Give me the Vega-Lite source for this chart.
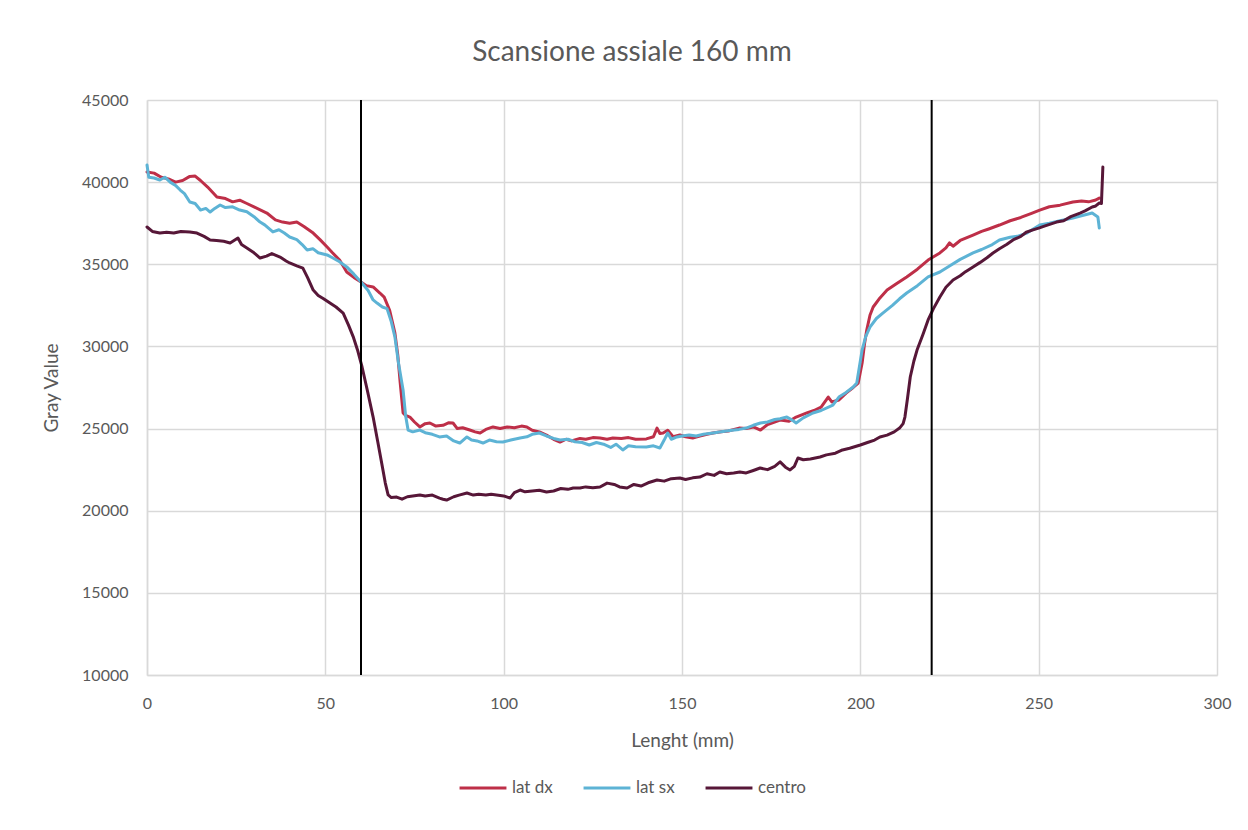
{
"$schema": "https://vega.github.io/schema/vega-lite/v6.json",
"autosize": {"type": "none"},
"width": 1070,
"height": 575,
"padding": {"left": 147, "top": 100, "right": 31, "bottom": 155},
"background": "white",
"title": {"text": "Scansione assiale 160 mm", "font": "Lato", "fontSize": 28, "fontWeight": "normal", "color": "#595959", "anchor": "middle", "dx": -50, "offset": 25},
"config": {"view": {"stroke": null}, "font": "Lato"},
"layer": [
{
"data": {"values": [
{"s":"lat dx","x":0,"y":40620},{"s":"lat dx","x":2,"y":40550},{"s":"lat dx","x":4,"y":40300},{"s":"lat dx","x":6,"y":40200},{"s":"lat dx","x":8,"y":40000},{"s":"lat dx","x":10,"y":40100},{"s":"lat dx","x":12,"y":40350},{"s":"lat dx","x":13.5,"y":40370},{"s":"lat dx","x":15,"y":40100},{"s":"lat dx","x":17,"y":39700},{"s":"lat dx","x":19.6,"y":39100},{"s":"lat dx","x":22,"y":39000},{"s":"lat dx","x":24,"y":38800},{"s":"lat dx","x":26,"y":38900},{"s":"lat dx","x":28,"y":38700},{"s":"lat dx","x":30,"y":38500},{"s":"lat dx","x":33.6,"y":38120},{"s":"lat dx","x":36,"y":37700},{"s":"lat dx","x":38,"y":37570},{"s":"lat dx","x":40,"y":37500},{"s":"lat dx","x":42,"y":37570},{"s":"lat dx","x":44,"y":37300},{"s":"lat dx","x":46.6,"y":36900},{"s":"lat dx","x":48.5,"y":36500},{"s":"lat dx","x":50.5,"y":36050},{"s":"lat dx","x":52,"y":35700},{"s":"lat dx","x":54,"y":35260},{"s":"lat dx","x":56,"y":34530},{"s":"lat dx","x":58,"y":34200},{"s":"lat dx","x":60,"y":33920},{"s":"lat dx","x":61.5,"y":33700},{"s":"lat dx","x":63.4,"y":33620},{"s":"lat dx","x":65.3,"y":33250},{"s":"lat dx","x":66.5,"y":33000},{"s":"lat dx","x":68,"y":32220},{"s":"lat dx","x":69.5,"y":30820},{"s":"lat dx","x":70.3,"y":29500},{"s":"lat dx","x":71,"y":27770},{"s":"lat dx","x":71.8,"y":25950},{"s":"lat dx","x":72.5,"y":25800},{"s":"lat dx","x":73.7,"y":25700},{"s":"lat dx","x":75,"y":25400},{"s":"lat dx","x":76.5,"y":25100},{"s":"lat dx","x":78,"y":25300},{"s":"lat dx","x":79.3,"y":25340},{"s":"lat dx","x":81,"y":25150},{"s":"lat dx","x":83,"y":25200},{"s":"lat dx","x":84.5,"y":25350},{"s":"lat dx","x":85.8,"y":25340},{"s":"lat dx","x":87,"y":25000},{"s":"lat dx","x":88.5,"y":25050},{"s":"lat dx","x":90.5,"y":24910},{"s":"lat dx","x":92,"y":24800},{"s":"lat dx","x":93.4,"y":24730},{"s":"lat dx","x":95,"y":24950},{"s":"lat dx","x":97,"y":25100},{"s":"lat dx","x":99,"y":25000},{"s":"lat dx","x":101,"y":25100},{"s":"lat dx","x":103,"y":25050},{"s":"lat dx","x":105,"y":25150},{"s":"lat dx","x":106.5,"y":25100},{"s":"lat dx","x":108,"y":24900},{"s":"lat dx","x":110,"y":24800},{"s":"lat dx","x":112,"y":24600},{"s":"lat dx","x":114,"y":24350},{"s":"lat dx","x":115.8,"y":24180},{"s":"lat dx","x":117.5,"y":24350},{"s":"lat dx","x":119,"y":24250},{"s":"lat dx","x":121.4,"y":24400},{"s":"lat dx","x":123,"y":24350},{"s":"lat dx","x":125,"y":24450},{"s":"lat dx","x":127,"y":24430},{"s":"lat dx","x":129,"y":24350},{"s":"lat dx","x":130.6,"y":24430},{"s":"lat dx","x":133,"y":24400},{"s":"lat dx","x":135,"y":24450},{"s":"lat dx","x":137,"y":24350},{"s":"lat dx","x":140,"y":24370},{"s":"lat dx","x":142,"y":24500},{"s":"lat dx","x":143,"y":25030},{"s":"lat dx","x":143.8,"y":24700},{"s":"lat dx","x":144.7,"y":24730},{"s":"lat dx","x":146,"y":24900},{"s":"lat dx","x":147.5,"y":24500},{"s":"lat dx","x":149.4,"y":24610},{"s":"lat dx","x":151,"y":24500},{"s":"lat dx","x":153,"y":24430},{"s":"lat dx","x":155,"y":24550},{"s":"lat dx","x":157,"y":24650},{"s":"lat dx","x":158.7,"y":24730},{"s":"lat dx","x":161,"y":24800},{"s":"lat dx","x":163,"y":24850},{"s":"lat dx","x":166,"y":25030},{"s":"lat dx","x":168,"y":25000},{"s":"lat dx","x":170,"y":25100},{"s":"lat dx","x":172,"y":24910},{"s":"lat dx","x":174,"y":25250},{"s":"lat dx","x":177.5,"y":25520},{"s":"lat dx","x":180,"y":25450},{"s":"lat dx","x":182,"y":25700},{"s":"lat dx","x":185,"y":25950},{"s":"lat dx","x":187,"y":26100},{"s":"lat dx","x":189,"y":26300},{"s":"lat dx","x":191,"y":26920},{"s":"lat dx","x":192,"y":26620},{"s":"lat dx","x":194,"y":26740},{"s":"lat dx","x":196,"y":27160},{"s":"lat dx","x":198,"y":27500},{"s":"lat dx","x":199.4,"y":27770},{"s":"lat dx","x":200.5,"y":28990},{"s":"lat dx","x":201.2,"y":30200},{"s":"lat dx","x":201.8,"y":31000},{"s":"lat dx","x":202.7,"y":31900},{"s":"lat dx","x":203.6,"y":32400},{"s":"lat dx","x":205.5,"y":32950},{"s":"lat dx","x":207.5,"y":33430},{"s":"lat dx","x":210,"y":33800},{"s":"lat dx","x":213,"y":34230},{"s":"lat dx","x":216,"y":34700},{"s":"lat dx","x":219,"y":35260},{"s":"lat dx","x":222.3,"y":35690},{"s":"lat dx","x":224,"y":36000},{"s":"lat dx","x":225,"y":36300},{"s":"lat dx","x":226,"y":36100},{"s":"lat dx","x":228,"y":36450},{"s":"lat dx","x":231.6,"y":36780},{"s":"lat dx","x":234,"y":37000},{"s":"lat dx","x":236,"y":37150},{"s":"lat dx","x":239,"y":37390},{"s":"lat dx","x":242,"y":37650},{"s":"lat dx","x":245,"y":37850},{"s":"lat dx","x":248,"y":38100},{"s":"lat dx","x":250.3,"y":38300},{"s":"lat dx","x":253,"y":38500},{"s":"lat dx","x":256,"y":38600},{"s":"lat dx","x":259.6,"y":38790},{"s":"lat dx","x":262,"y":38850},{"s":"lat dx","x":264,"y":38800},{"s":"lat dx","x":266,"y":38910},{"s":"lat dx","x":267,"y":39030},
{"s":"lat sx","x":0,"y":41040},{"s":"lat sx","x":0.5,"y":40300},{"s":"lat sx","x":2,"y":40250},{"s":"lat sx","x":3.6,"y":40130},{"s":"lat sx","x":5,"y":40300},{"s":"lat sx","x":6.5,"y":40000},{"s":"lat sx","x":8,"y":39800},{"s":"lat sx","x":9.3,"y":39520},{"s":"lat sx","x":10.5,"y":39300},{"s":"lat sx","x":12,"y":38790},{"s":"lat sx","x":13.5,"y":38700},{"s":"lat sx","x":15,"y":38300},{"s":"lat sx","x":16.5,"y":38400},{"s":"lat sx","x":17.7,"y":38180},{"s":"lat sx","x":19,"y":38400},{"s":"lat sx","x":20.5,"y":38610},{"s":"lat sx","x":22,"y":38450},{"s":"lat sx","x":24,"y":38500},{"s":"lat sx","x":26,"y":38300},{"s":"lat sx","x":28,"y":38200},{"s":"lat sx","x":30,"y":37900},{"s":"lat sx","x":31.7,"y":37570},{"s":"lat sx","x":33,"y":37400},{"s":"lat sx","x":35.3,"y":36970},{"s":"lat sx","x":37,"y":37100},{"s":"lat sx","x":38.5,"y":36900},{"s":"lat sx","x":40,"y":36660},{"s":"lat sx","x":42,"y":36500},{"s":"lat sx","x":43.5,"y":36200},{"s":"lat sx","x":44.9,"y":35870},{"s":"lat sx","x":46.5,"y":35950},{"s":"lat sx","x":48,"y":35700},{"s":"lat sx","x":50.5,"y":35570},{"s":"lat sx","x":52,"y":35400},{"s":"lat sx","x":54,"y":35150},{"s":"lat sx","x":56,"y":34840},{"s":"lat sx","x":58,"y":34400},{"s":"lat sx","x":60,"y":33920},{"s":"lat sx","x":62,"y":33400},{"s":"lat sx","x":63.4,"y":32830},{"s":"lat sx","x":64.5,"y":32640},{"s":"lat sx","x":66,"y":32400},{"s":"lat sx","x":67.3,"y":32300},{"s":"lat sx","x":68.5,"y":31500},{"s":"lat sx","x":69.5,"y":30580},{"s":"lat sx","x":70.5,"y":29000},{"s":"lat sx","x":71.8,"y":27350},{"s":"lat sx","x":72.5,"y":25800},{"s":"lat sx","x":73.2,"y":24910},{"s":"lat sx","x":74.5,"y":24800},{"s":"lat sx","x":76.5,"y":24910},{"s":"lat sx","x":78,"y":24750},{"s":"lat sx","x":80,"y":24650},{"s":"lat sx","x":82,"y":24490},{"s":"lat sx","x":84,"y":24550},{"s":"lat sx","x":86,"y":24250},{"s":"lat sx","x":87.7,"y":24120},{"s":"lat sx","x":89.7,"y":24490},{"s":"lat sx","x":91,"y":24300},{"s":"lat sx","x":92.5,"y":24250},{"s":"lat sx","x":94.2,"y":24120},{"s":"lat sx","x":96,"y":24300},{"s":"lat sx","x":98,"y":24200},{"s":"lat sx","x":99.8,"y":24180},{"s":"lat sx","x":102,"y":24300},{"s":"lat sx","x":104.6,"y":24430},{"s":"lat sx","x":106.5,"y":24500},{"s":"lat sx","x":108,"y":24650},{"s":"lat sx","x":110,"y":24730},{"s":"lat sx","x":112,"y":24550},{"s":"lat sx","x":114,"y":24400},{"s":"lat sx","x":115.8,"y":24300},{"s":"lat sx","x":118,"y":24350},{"s":"lat sx","x":120,"y":24200},{"s":"lat sx","x":122,"y":24150},{"s":"lat sx","x":124,"y":24000},{"s":"lat sx","x":126,"y":24150},{"s":"lat sx","x":128,"y":24050},{"s":"lat sx","x":130,"y":23850},{"s":"lat sx","x":131.5,"y":24050},{"s":"lat sx","x":133.4,"y":23700},{"s":"lat sx","x":135,"y":23950},{"s":"lat sx","x":137,"y":23900},{"s":"lat sx","x":140,"y":23880},{"s":"lat sx","x":142,"y":23950},{"s":"lat sx","x":143.8,"y":23820},{"s":"lat sx","x":145,"y":24300},{"s":"lat sx","x":146,"y":24730},{"s":"lat sx","x":147,"y":24350},{"s":"lat sx","x":148.6,"y":24490},{"s":"lat sx","x":150,"y":24550},{"s":"lat sx","x":152,"y":24610},{"s":"lat sx","x":154,"y":24550},{"s":"lat sx","x":156,"y":24650},{"s":"lat sx","x":158.7,"y":24730},{"s":"lat sx","x":161,"y":24800},{"s":"lat sx","x":164,"y":24900},{"s":"lat sx","x":166,"y":24950},{"s":"lat sx","x":168,"y":25030},{"s":"lat sx","x":170,"y":25200},{"s":"lat sx","x":172,"y":25340},{"s":"lat sx","x":174,"y":25400},{"s":"lat sx","x":176,"y":25550},{"s":"lat sx","x":177.5,"y":25600},{"s":"lat sx","x":179.4,"y":25700},{"s":"lat sx","x":181,"y":25500},{"s":"lat sx","x":182,"y":25340},{"s":"lat sx","x":184,"y":25650},{"s":"lat sx","x":186.7,"y":25950},{"s":"lat sx","x":189,"y":26100},{"s":"lat sx","x":192.3,"y":26430},{"s":"lat sx","x":194,"y":26920},{"s":"lat sx","x":196,"y":27200},{"s":"lat sx","x":198,"y":27530},{"s":"lat sx","x":199,"y":27770},{"s":"lat sx","x":200.5,"y":29780},{"s":"lat sx","x":201.5,"y":30600},{"s":"lat sx","x":202.7,"y":31180},{"s":"lat sx","x":204.5,"y":31700},{"s":"lat sx","x":206.3,"y":32030},{"s":"lat sx","x":209,"y":32500},{"s":"lat sx","x":211,"y":32900},{"s":"lat sx","x":213,"y":33250},{"s":"lat sx","x":216,"y":33700},{"s":"lat sx","x":219,"y":34230},{"s":"lat sx","x":222.3,"y":34530},{"s":"lat sx","x":225,"y":34900},{"s":"lat sx","x":228,"y":35300},{"s":"lat sx","x":231.6,"y":35690},{"s":"lat sx","x":234,"y":35900},{"s":"lat sx","x":237,"y":36200},{"s":"lat sx","x":239,"y":36480},{"s":"lat sx","x":242,"y":36650},{"s":"lat sx","x":244,"y":36700},{"s":"lat sx","x":246.7,"y":36900},{"s":"lat sx","x":248.5,"y":37150},{"s":"lat sx","x":250.3,"y":37390},{"s":"lat sx","x":253,"y":37500},{"s":"lat sx","x":256,"y":37650},{"s":"lat sx","x":259.6,"y":37820},{"s":"lat sx","x":262,"y":37950},{"s":"lat sx","x":265,"y":38120},{"s":"lat sx","x":266.6,"y":37880},{"s":"lat sx","x":267,"y":37210},
{"s":"centro","x":0,"y":37270},{"s":"centro","x":1.5,"y":37000},{"s":"centro","x":3.6,"y":36900},{"s":"centro","x":5.5,"y":36950},{"s":"centro","x":7.5,"y":36900},{"s":"centro","x":9.5,"y":37000},{"s":"centro","x":12,"y":36970},{"s":"centro","x":14,"y":36900},{"s":"centro","x":16,"y":36700},{"s":"centro","x":17.7,"y":36480},{"s":"centro","x":19.5,"y":36450},{"s":"centro","x":21.5,"y":36400},{"s":"centro","x":23.3,"y":36300},{"s":"centro","x":25.5,"y":36600},{"s":"centro","x":26.5,"y":36200},{"s":"centro","x":28,"y":35990},{"s":"centro","x":30,"y":35700},{"s":"centro","x":31.7,"y":35380},{"s":"centro","x":33.5,"y":35500},{"s":"centro","x":35,"y":35650},{"s":"centro","x":37.3,"y":35440},{"s":"centro","x":39,"y":35200},{"s":"centro","x":40,"y":35080},{"s":"centro","x":42,"y":34900},{"s":"centro","x":43.7,"y":34770},{"s":"centro","x":45,"y":34200},{"s":"centro","x":46.6,"y":33430},{"s":"centro","x":48,"y":33100},{"s":"centro","x":49.5,"y":32900},{"s":"centro","x":51.3,"y":32640},{"s":"centro","x":53,"y":32400},{"s":"centro","x":55,"y":32030},{"s":"centro","x":56.5,"y":31300},{"s":"centro","x":57.8,"y":30600},{"s":"centro","x":59,"y":29800},{"s":"centro","x":60.3,"y":28750},{"s":"centro","x":61.8,"y":27300},{"s":"centro","x":63.4,"y":25700},{"s":"centro","x":64.7,"y":24200},{"s":"centro","x":66,"y":22660},{"s":"centro","x":66.8,"y":21700},{"s":"centro","x":67.6,"y":20960},{"s":"centro","x":68.5,"y":20800},{"s":"centro","x":70,"y":20830},{"s":"centro","x":71.5,"y":20700},{"s":"centro","x":73,"y":20850},{"s":"centro","x":74.5,"y":20900},{"s":"centro","x":76.5,"y":20960},{"s":"centro","x":78,"y":20900},{"s":"centro","x":80,"y":20950},{"s":"centro","x":82,"y":20770},{"s":"centro","x":83,"y":20700},{"s":"centro","x":84,"y":20650},{"s":"centro","x":86,"y":20850},{"s":"centro","x":87.5,"y":20950},{"s":"centro","x":89.7,"y":21080},{"s":"centro","x":91.5,"y":20950},{"s":"centro","x":93,"y":21000},{"s":"centro","x":95,"y":20950},{"s":"centro","x":96.5,"y":21000},{"s":"centro","x":98,"y":20960},{"s":"centro","x":100,"y":20900},{"s":"centro","x":101.8,"y":20770},{"s":"centro","x":103,"y":21100},{"s":"centro","x":104.6,"y":21260},{"s":"centro","x":106,"y":21150},{"s":"centro","x":108,"y":21200},{"s":"centro","x":110,"y":21250},{"s":"centro","x":112,"y":21140},{"s":"centro","x":114,"y":21200},{"s":"centro","x":116,"y":21350},{"s":"centro","x":118,"y":21300},{"s":"centro","x":119.5,"y":21380},{"s":"centro","x":121.4,"y":21380},{"s":"centro","x":123,"y":21450},{"s":"centro","x":125,"y":21400},{"s":"centro","x":127,"y":21440},{"s":"centro","x":129,"y":21680},{"s":"centro","x":131,"y":21600},{"s":"centro","x":132.5,"y":21450},{"s":"centro","x":134.6,"y":21380},{"s":"centro","x":136.5,"y":21600},{"s":"centro","x":138.5,"y":21500},{"s":"centro","x":140.5,"y":21700},{"s":"centro","x":143,"y":21870},{"s":"centro","x":145,"y":21800},{"s":"centro","x":147,"y":21950},{"s":"centro","x":149.4,"y":21990},{"s":"centro","x":151,"y":21900},{"s":"centro","x":153,"y":22000},{"s":"centro","x":155,"y":22050},{"s":"centro","x":157,"y":22250},{"s":"centro","x":159,"y":22150},{"s":"centro","x":160.6,"y":22360},{"s":"centro","x":162.5,"y":22250},{"s":"centro","x":164.5,"y":22300},{"s":"centro","x":166.2,"y":22360},{"s":"centro","x":168,"y":22300},{"s":"centro","x":170,"y":22450},{"s":"centro","x":171.9,"y":22600},{"s":"centro","x":174,"y":22500},{"s":"centro","x":176,"y":22700},{"s":"centro","x":177.5,"y":22970},{"s":"centro","x":179,"y":22650},{"s":"centro","x":180.3,"y":22480},{"s":"centro","x":181.5,"y":22700},{"s":"centro","x":182.5,"y":23210},{"s":"centro","x":184,"y":23100},{"s":"centro","x":186,"y":23150},{"s":"centro","x":188.7,"y":23270},{"s":"centro","x":190.5,"y":23400},{"s":"centro","x":193,"y":23500},{"s":"centro","x":195,"y":23700},{"s":"centro","x":197,"y":23800},{"s":"centro","x":200,"y":24000},{"s":"centro","x":202,"y":24150},{"s":"centro","x":204,"y":24300},{"s":"centro","x":205.5,"y":24490},{"s":"centro","x":207.5,"y":24600},{"s":"centro","x":209.5,"y":24800},{"s":"centro","x":211,"y":25030},{"s":"centro","x":212,"y":25300},{"s":"centro","x":212.5,"y":25700},{"s":"centro","x":213.2,"y":26800},{"s":"centro","x":214,"y":28140},{"s":"centro","x":215,"y":29100},{"s":"centro","x":215.9,"y":29780},{"s":"centro","x":217.5,"y":30700},{"s":"centro","x":219,"y":31610},{"s":"centro","x":220.5,"y":32300},{"s":"centro","x":222.3,"y":33010},{"s":"centro","x":224,"y":33600},{"s":"centro","x":226,"y":34040},{"s":"centro","x":228,"y":34300},{"s":"centro","x":229.5,"y":34550},{"s":"centro","x":231.6,"y":34840},{"s":"centro","x":233.5,"y":35100},{"s":"centro","x":235.5,"y":35400},{"s":"centro","x":237.2,"y":35690},{"s":"centro","x":239,"y":35950},{"s":"centro","x":241,"y":36200},{"s":"centro","x":242.8,"y":36480},{"s":"centro","x":245,"y":36700},{"s":"centro","x":246.5,"y":36950},{"s":"centro","x":248.4,"y":37090},{"s":"centro","x":250,"y":37200},{"s":"centro","x":252,"y":37350},{"s":"centro","x":255,"y":37570},{"s":"centro","x":257,"y":37650},{"s":"centro","x":259,"y":37900},{"s":"centro","x":261.6,"y":38120},{"s":"centro","x":263,"y":38250},{"s":"centro","x":265,"y":38490},{"s":"centro","x":266,"y":38550},{"s":"centro","x":267,"y":38730},{"s":"centro","x":267.6,"y":38700},{"s":"centro","x":268,"y":40920}
]},
"mark": {"type": "line", "strokeWidth": 3, "strokeJoin": "round", "strokeCap": "round"},
"encoding": {
"x": {"field": "x", "type": "quantitative", "scale": {"domain": [0, 300], "nice": false},
"axis": {"values": [0, 50, 100, 150, 200, 250, 300], "title": "Lenght (mm)", "grid": true, "gridColor": "#D9D9D9", "gridWidth": 1.5, "domain": true, "domainColor": "#D9D9D9", "domainWidth": 1.5, "ticks": false, "labelFlush": false, "labelFont": "Lato", "labelFontSize": 16, "labelColor": "#595959", "labelPadding": 20, "titleFont": "Lato", "titleFontSize": 19, "titleFontWeight": "normal", "titleColor": "#595959", "titlePadding": 20}},
"y": {"field": "y", "type": "quantitative", "scale": {"domain": [10000, 45000], "nice": false},
"axis": {"values": [10000, 15000, 20000, 25000, 30000, 35000, 40000, 45000], "format": "d", "title": "Gray Value", "grid": true, "gridColor": "#D9D9D9", "gridWidth": 1.5, "domain": true, "domainColor": "#D9D9D9", "domainWidth": 1.5, "ticks": false, "labelFlush": false, "labelFont": "Lato", "labelFontSize": 16, "labelColor": "#595959", "labelPadding": 19, "titleFont": "Lato", "titleFontSize": 19, "titleFontWeight": "normal", "titleColor": "#595959", "titlePadding": 20}},
"color": {"field": "s", "type": "nominal", "sort": ["lat dx", "lat sx", "centro"],
"scale": {"domain": ["lat dx", "lat sx", "centro"], "range": ["#BE2F48", "#5DB3D5", "#571738"]},
"legend": {"title": null, "orient": "none", "legendX": 311, "legendY": 663, "direction": "horizontal", "symbolType": "stroke", "symbolSize": 2200, "symbolStrokeWidth": 3, "labelFont": "Lato", "labelFontSize": 17, "labelColor": "#595959", "columnPadding": 24, "labelOffset": 4}}
}
},
{
"data": {"values": [{"x": 60}, {"x": 220}]},
"mark": {"type": "rule", "color": "black", "strokeWidth": 2},
"encoding": {"x": {"field": "x", "type": "quantitative"}}
}
]
}
